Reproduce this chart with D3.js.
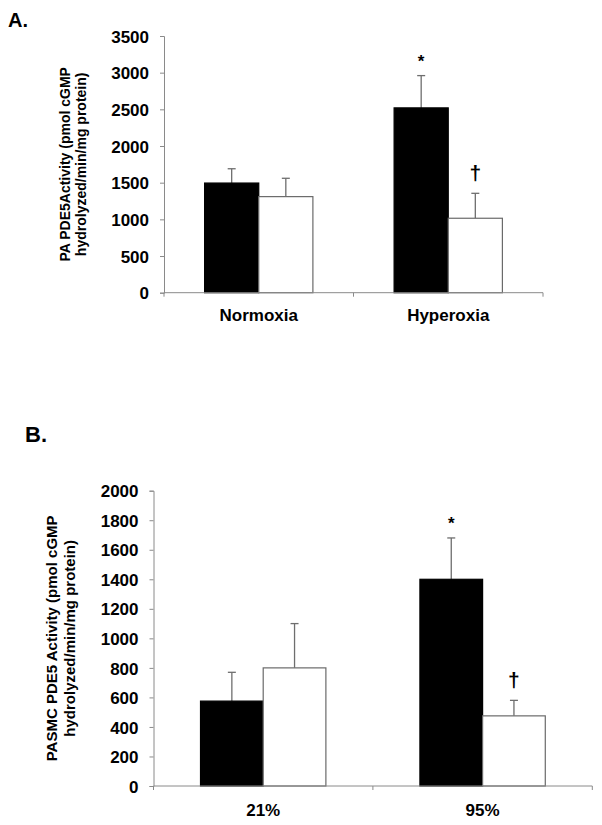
<!DOCTYPE html>
<html>
<head>
<meta charset="utf-8">
<script src="https://cdn.jsdelivr.net/npm/d3@7"></script>
<style>
  html, body { margin: 0; padding: 0; background: #fff; }
  svg { display: block; }
  text { font-family: "Liberation Sans", Arial, sans-serif; font-weight: bold; fill: #000; }
</style>
</head>
<body>
<svg id="chart" width="602" height="825"></svg>
<script>
// ---- Panel A data ----
const categoriesA = ["Normoxia", "Hyperoxia"];
const seriesNames = ["black", "white"];
const blackA = [1495, 2520];
const blackErrA = [195, 440];
const whiteA = [1310, 1015];
const whiteErrA = [250, 340];
const ticksA = [0, 500, 1000, 1500, 2000, 2500, 3000, 3500];
const marksA = [["", ""], ["*", "†"]];

// ---- Panel B data ----
const categoriesB = ["21%", "95%"];
const blackB = [575, 1400];
const blackErrB = [195, 280];
const whiteB = [800, 475];
const whiteErrB = [300, 105];
const ticksB = [0, 200, 400, 600, 800, 1000, 1200, 1400, 1600, 1800, 2000];
const marksB = [["", ""], ["*", "†"]];

const svg = d3.select("#chart");
const axisColor = "#8a8a8a";
const errColor = "#6e6e6e";

function panel(cfg) {
  const g = svg.append("g");
  const y = d3.scaleLinear().domain([0, cfg.max]).range([cfg.bottom, cfg.top]);
  const x0 = d3.scaleBand().domain(cfg.categories).range([cfg.left, cfg.right]).padding(0);
  const x1 = d3.scaleBand().domain(seriesNames).range([0, x0.bandwidth()]).paddingInner(0).paddingOuter(0.75);

  // y axis
  const yAxis = d3.axisLeft(y).tickValues(cfg.ticks).tickSize(4).tickPadding(11).tickFormat(d3.format("d"));
  const ya = g.append("g").attr("transform", `translate(${cfg.left},0)`).call(yAxis);
  ya.selectAll("path, line").attr("stroke", axisColor).attr("stroke-width", 1);
  ya.selectAll("text").style("font-size", cfg.tickFont + "px").attr("dy", "0.36em");

  // y axis title
  const cy = (cfg.top + cfg.bottom) / 2;
  cfg.title.forEach((t, i) => {
    g.append("text")
      .attr("transform", `translate(${cfg.titleX[i]},${cy}) rotate(-90)`)
      .attr("text-anchor", "middle")
      .style("font-size", cfg.titleFont + "px")
      .text(t);
  });

  const data = cfg.categories.map((c, i) => ({
    cat: c,
    vals: [
      { s: "black", v: cfg.black[i], e: cfg.blackErr[i], m: cfg.marks[i][0] },
      { s: "white", v: cfg.white[i], e: cfg.whiteErr[i], m: cfg.marks[i][1] }
    ]
  }));

  const groups = g.selectAll(".grp").data(data).enter().append("g")
    .attr("transform", d => `translate(${x0(d.cat)},0)`);

  // error bars (drawn behind bars)
  const eb = groups.selectAll(".eb").data(d => d.vals).enter().append("g");
  eb.append("line")
    .attr("x1", d => x1(d.s) + x1.bandwidth() / 2)
    .attr("x2", d => x1(d.s) + x1.bandwidth() / 2)
    .attr("y1", d => y(d.v))
    .attr("y2", d => y(d.v + d.e))
    .attr("stroke", errColor).attr("stroke-width", 1.3);
  eb.append("line")
    .attr("x1", d => x1(d.s) + x1.bandwidth() / 2 - 4)
    .attr("x2", d => x1(d.s) + x1.bandwidth() / 2 + 4)
    .attr("y1", d => y(d.v + d.e))
    .attr("y2", d => y(d.v + d.e))
    .attr("stroke", errColor).attr("stroke-width", 1.3);

  groups.selectAll("rect").data(d => d.vals).enter().append("rect")
    .attr("x", d => x1(d.s))
    .attr("width", x1.bandwidth())
    .attr("y", d => y(d.v))
    .attr("height", d => y(0) - y(d.v))
    .attr("fill", d => d.s === "black" ? "#000" : "#fff")
    .attr("stroke", d => d.s === "black" ? "#000" : "#6a6a6a")
    .attr("stroke-width", 1.2);

  // significance marks
  groups.selectAll(".mk").data(d => d.vals.filter(v => v.m)).enter().append("text")
    .attr("x", d => x1(d.s) + x1.bandwidth() / 2)
    .attr("y", d => y(d.v + d.e) - (d.m === "*" ? 9 : 13))
    .attr("text-anchor", "middle")
    .style("font-size", d => d.m === "*" ? "17px" : "21px")
    .text(d => d.m);

  // x axis line with boundary ticks
  const xa = g.append("g").attr("transform", `translate(0,${cfg.bottom})`);
  xa.append("line").attr("x1", cfg.left).attr("x2", cfg.right).attr("y1", 0).attr("y2", 0)
    .attr("stroke", axisColor).attr("stroke-width", 1);
  const bounds = cfg.categories.map(c => x0(c)).concat([cfg.right]);
  xa.selectAll(".bt").data(bounds).enter().append("line")
    .attr("x1", d => d).attr("x2", d => d).attr("y1", 0).attr("y2", 4)
    .attr("stroke", axisColor).attr("stroke-width", 1);
  xa.selectAll(".lbl").data(cfg.categories).enter().append("text")
    .attr("x", d => x0(d) + x0.bandwidth() / 2)
    .attr("y", cfg.labelDy)
    .attr("text-anchor", "middle")
    .style("font-size", cfg.labelFont + "px")
    .text(d => d);

  // panel letter
  g.append("text").attr("x", cfg.letterX).attr("y", cfg.letterY)
    .style("font-size", cfg.letterFont + "px").text(cfg.letter);
}

panel({
  categories: categoriesA, black: blackA, blackErr: blackErrA, white: whiteA, whiteErr: whiteErrA,
  ticks: ticksA, marks: marksA, max: 3500,
  left: 164, right: 543, top: 36, bottom: 292.7,
  tickFont: 17, titleFont: 14, titleX: [70, 86],
  title: ["PA PDE5Activity (pmol cGMP", "hydrolyzed/min/mg protein)"],
  labelDy: 28, labelFont: 17,
  letter: "A.", letterX: 8, letterY: 27, letterFont: 20
});

panel({
  categories: categoriesB, black: blackB, blackErr: blackErrB, white: whiteB, whiteErr: whiteErrB,
  ticks: ticksB, marks: marksB, max: 2000,
  left: 153.5, right: 592.3, top: 490.7, bottom: 786,
  tickFont: 17, titleFont: 15, titleX: [57, 75],
  title: ["PASMC PDE5 Activity (pmol cGMP", "hydrolyzed/min/mg protein)"],
  labelDy: 30, labelFont: 17,
  letter: "B.", letterX: 25, letterY: 441.7, letterFont: 22
});
</script>
</body>
</html>
